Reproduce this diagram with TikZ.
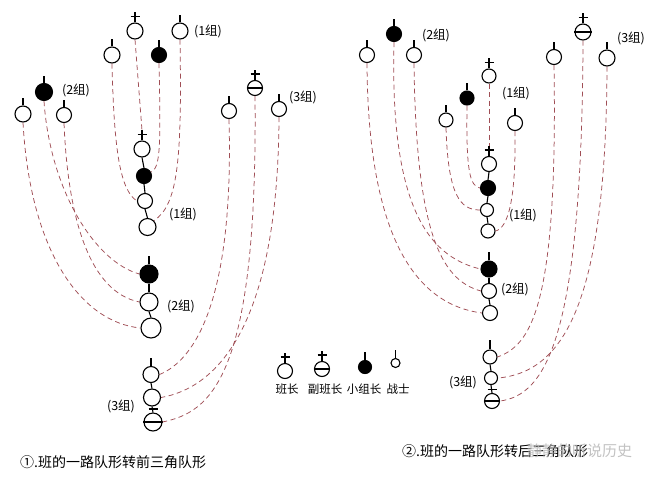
\documentclass[tikz,border=0pt]{standalone}
\usepackage{fontspec}
\newfontfamily\cjk{Noto Sans CJK SC}
\usetikzlibrary{calc}
\definecolor{linkred}{HTML}{A04E55}
\definecolor{wmgray}{HTML}{B8B8B8}
\tikzset{
  man/.style={circle,draw=black,line width=1.1pt,inner sep=0pt,minimum size=#1},
  man/.default=15,
  chief/.style={man=#1,fill=black},
  chief/.default=15,
  sym/.style={line width=1.1pt,draw=black},
  trail/.style={draw=linkred,line width=0.75pt,dash pattern=on 5pt off 3.5pt},
  grp/.style={font=\cjk\fontsize{12.5}{13}\selectfont,inner sep=0pt},
  legtext/.style={font=\cjk\fontsize{11.5}{12}\selectfont,inner sep=0pt},
  captext/.style={font=\cjk\fontsize{14}{15}\selectfont,inner sep=0pt,anchor=west},
}
\newcommand\mystem[2][6]{\draw[sym] (#2.north) -- ++(0,-#1);}
\newcommand\mycross[1]{\draw[sym] (#1.north) -- ++(0,-10) ($(#1.north)+(-4.5,-6)$) -- ++(9,0);}
\newcommand\mybar[1]{\draw[sym] (#1.west) -- (#1.east);}
\newcommand\mylink[2]{\draw[sym] (#1.south) -- (#2.north);}
\begin{document}
\begin{tikzpicture}[x=1pt,y=-1pt]
\useasboundingbox (0,0) rectangle (660,477);
\fill[white] (0,0) rectangle (660,477);

% ================= Diagram 1 =================
% group 1 top
\node[man=16] (Ab) at (135,31) {}; \mycross{Ab}
\node[man=16] (As4) at (180,31) {}; \mystem[7]{As4}
\node[man=16] (As3) at (112,55) {}; \mystem[7]{As3}
\node[chief=15] (Af) at (159,55) {}; \mystem[7]{Af}
\node[grp] (lA1) at (208,31) {(1组)};
% group 2 top
\node[chief=17] (Bf) at (44,92) {}; \mystem[7]{Bf}
\node[man=16] (Bs1) at (23,114) {}; \mystem[7]{Bs1}
\node[man=15] (Bs2) at (64,115) {}; \mystem[7]{Bs2}
\node[grp] (lB1) at (76,90) {(2组)};
% group 3 top
\node[man=15] (Cv) at (255,88) {}; \mycross{Cv} \mybar{Cv}
\node[man=15] (Cs1) at (229,111) {}; \mystem[7]{Cs1}
\node[man=15] (Cs2) at (279,109) {}; \mystem[7]{Cs2}
\node[grp] (lC1) at (303,97) {(3组)};

% column
\node[man=16] (Pb) at (142,149) {}; \mycross{Pb}
\node[chief=15] (Pf) at (144,176) {};
\node[man=15] (Ps3) at (145,201) {};
\node[man=17] (Ps4) at (147.5,227) {};
\mylink{Pb}{Pf} \mylink{Pf}{Ps3} \mylink{Ps3}{Ps4}
\node[grp] (lP) at (183,214) {(1组)};

\node[chief=18] (Qf) at (149,274) {}; \mystem[8]{Qf}
\node[man=18] (Qs2) at (149,302) {};
\node[man=20] (Qs3) at (151,328) {};
\mylink{Qf}{Qs2} \mylink{Qs2}{Qs3}
\node[grp] (lQ) at (181,306) {(2组)};

\node[man=16] (Rs1) at (151,374.5) {}; \mystem[8]{Rs1}
\node[man=17] (Rs2) at (152,397.5) {};
\node[man=18] (Rv) at (153,422) {}; \mybar{Rv}
\mylink{Rs1}{Rs2} \mylink{Rs2}{Rv}
\draw[sym] ($(Rv.north)+(-4.5,-3.5)$) -- ++(9,0);
\node[grp] (lR) at (121,406) {(3组)};

% trails diagram 1
\draw[trail] (Ab.south) -- ($(Pb.north)+(0,-10)$);
\draw[trail] (Af.south) .. controls (161,150) and (160,168) .. (Pf.30);
\draw[trail] (As3.south) .. controls (114,150) and (120,190) .. (Ps3.west);
\draw[trail] (As4.south) .. controls (182,160) and (178,205) .. (Ps4.45);

\draw[trail] (Bf.south) .. controls (50,190) and (95,262) .. (Qf.west);
\draw[trail] (Bs2.south) .. controls (68,220) and (90,292) .. (Qs2.west);
\draw[trail] (Bs1.south) .. controls (30,250) and (80,322) .. (Qs3.west);

\draw[trail] (Cs1.south) .. controls (234,300) and (195,360) .. (Rs1.east);
\draw[trail] (Cv.south) .. controls (258,380) and (210,412) .. (Rv.east);
\draw[trail] (Cs2.south) .. controls (278,330) and (215,388) .. (Rs2.east);

% ================= Diagram 2 =================
% group 2 top
\node[chief=15] (Kf) at (394,34) {}; \mystem[7]{Kf}
\node[man=15] (Ks1) at (367,55) {}; \mystem[7]{Ks1}
\node[man=15] (Ks2) at (414,55) {}; \mystem[7]{Ks2}
\node[grp] (lK) at (436,35) {(2组)};
% group 1 top
\node[man=14] (Gb) at (489,76) {}; \mycross{Gb}
\node[chief=14] (Gf) at (467,98) {}; \mystem[7]{Gf}
\node[man=14] (Gs1) at (446,120) {}; \mystem[7]{Gs1}
\node[man=15] (Gs2) at (515,123) {}; \mystem[7]{Gs2}
\node[grp] (lG) at (516,93) {(1组)};
% group 3 top
\node[man=16] (Mv) at (583,32) {}; \mycross{Mv} \mybar{Mv}
\node[man=15] (Ms1) at (554,57) {}; \mystem[7]{Ms1}
\node[man=16] (Ms2) at (607,58) {}; \mystem[7]{Ms2}
\node[grp] (lM) at (631,38) {(3组)};

% column
\node[man=15] (Hb) at (489,164) {}; \mycross{Hb}
\node[chief=15] (Hf) at (488,188) {};
\node[man=13] (Hs3) at (487,210) {};
\node[man=14] (Hs4) at (488,231) {};
\mylink{Hb}{Hf} \mylink{Hf}{Hs3} \mylink{Hs3}{Hs4}
\node[grp] (lH) at (523,215) {(1组)};

\node[chief=16] (Lf) at (489,269) {}; \mystem[8]{Lf}
\node[man=15] (Ls2) at (489,291) {};
\node[man=15] (Ls3) at (490,313) {};
\mylink{Lf}{Ls2} \mylink{Ls2}{Ls3}
\node[grp] (lL) at (515,289) {(2组)};

\node[man=14] (Ns1) at (490,357) {}; \mystem[9]{Ns1}
\node[man=13] (Ns2) at (491,378) {};
\node[man=15] (Nv) at (492,401) {}; \mybar{Nv}
\mylink{Ns1}{Ns2} \mylink{Ns2}{Nv}
\draw[sym] ($(Nv.north)+(-4.5,-3.5)$) -- ++(9,0);
\node[grp] (lN) at (463,382) {(3组)};

% trails diagram 2
\draw[trail] (Gb.south) -- ($(Hb.north)+(0,-10)$);
\draw[trail] (Gf.south) .. controls (466,172) and (470,186) .. (Hf.west);
\draw[trail] (Gs1.south) .. controls (448,195) and (460,210) .. (Hs3.west);
\draw[trail] (Gs2.south) .. controls (516,200) and (508,228) .. (Hs4.east);

\draw[trail] (Kf.south) .. controls (390,200) and (425,256) .. (Lf.west);
\draw[trail] (Ks2.south) .. controls (416,230) and (440,280) .. (Ls2.west);
\draw[trail] (Ks1.south) .. controls (368,245) and (420,305) .. (Ls3.west);

\draw[trail] (Ms1.south) .. controls (558,310) and (530,345) .. (Ns1.east);
\draw[trail] (Mv.south) .. controls (582,340) and (545,395) .. (Nv.east);
\draw[trail] (Ms2.south) .. controls (606,300) and (565,372) .. (Ns2.east);

% ================= Legend =================
\node[man=15] (Eb) at (285,371) {}; \mycross{Eb}
\node[man=15] (Ev) at (322,369) {}; \mycross{Ev} \mybar{Ev}
\node[chief=13] (Ef) at (365,367) {}; \mystem[8]{Ef}
\node[man=9] (Es) at (395.5,363) {}; \mystem[8]{Es}
\node[legtext] (tb) at (287,389) {班长};
\node[legtext] (tv) at (325,389) {副班长};
\node[legtext] (tf) at (364,389) {小组长};
\node[legtext] (ts) at (398,389) {战士};

% ================= Captions =================
\node[captext] (cap1) at (20,462) {①.班的一路队形转前三角队形};
\node[captext] (cap2) at (402,451) {②.班的一路队形转后三角队形};
\node[font=\cjk\fontsize{15}{16}\selectfont,inner sep=0pt,anchor=west,text=wmgray,opacity=0.85] (wm) at (527,451) {静静的听说历史};
\end{tikzpicture}
\end{document}
